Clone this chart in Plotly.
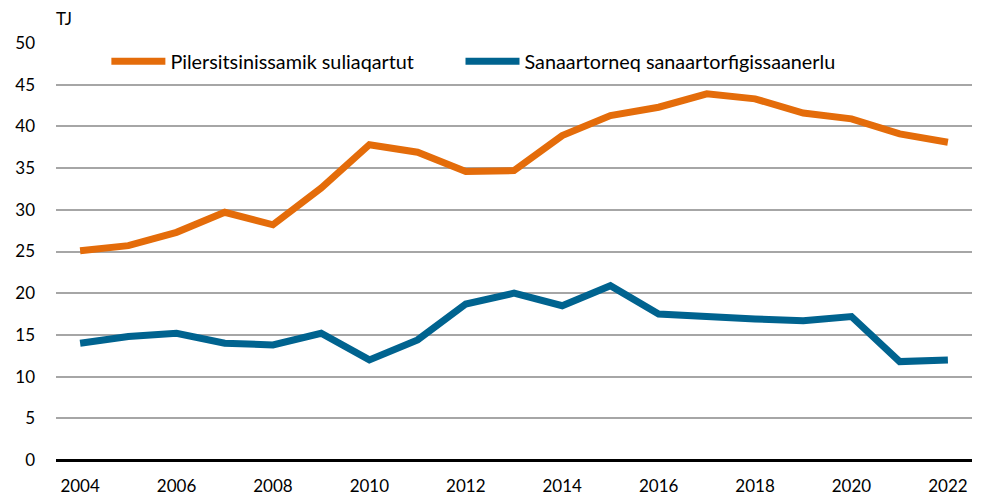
import plotly.graph_objects as go

years = list(range(2004, 2023))
pilersitsinissamik = [25.1, 25.7, 27.3, 29.7, 28.2, 32.6, 37.8, 36.9, 34.6, 34.7,
                      38.9, 41.3, 42.3, 43.9, 43.3, 41.6, 40.9, 39.1, 38.1]
sanaartorneq = [14.0, 14.8, 15.2, 14.0, 13.8, 15.2, 12.0, 14.4, 18.7, 20.0,
                18.5, 20.9, 17.5, 17.1, 16.9, 16.7, 17.2, 11.8, 12.0]
names = ["Pilersitsinissamik suliaqartut", "Sanaartorneq sanaartorfigissaanerlu"]
colors = ["#E46C0A", "#00638F"]
legend_ids = ["legend", "legend2"]

FONT = "Lato"

fig = go.Figure()
for name, vals, col, lg in zip(names, [pilersitsinissamik, sanaartorneq], colors, legend_ids):
    fig.add_trace(go.Scatter(x=years, y=vals, name=name, mode="lines",
                             line=dict(color=col, width=7), legend=lg))

leg_common = dict(orientation="h", y=0.956, xanchor="left", yanchor="middle",
                  bgcolor="rgba(0,0,0,0)", itemwidth=54,
                  font=dict(family=FONT, size=19.8))

fig.update_layout(
    width=975, height=489,
    margin=dict(l=48, r=11, t=35, b=37),
    paper_bgcolor="white", plot_bgcolor="white",
    font=dict(family=FONT, size=17, color="#000000"),
    showlegend=True,
    legend=dict(x=0.055, **leg_common),
    legend2=dict(x=0.4416, **leg_common),
    xaxis=dict(range=[2003.5, 2022.5], tickmode="linear", tick0=2004, dtick=2,
               showgrid=False, zeroline=False, showline=False, ticks="",
               automargin=False, ticklabelstandoff=14,
               tickfont=dict(family=FONT, size=17)),
    yaxis=dict(range=[0, 50], tickmode="linear", tick0=0, dtick=5,
               showgrid=True, gridcolor="#A6A6A6", gridwidth=2,
               zeroline=True, zerolinecolor="#000000", zerolinewidth=2.5,
               showline=False, ticks="", ticklabelstandoff=20, automargin=False,
               tickfont=dict(family=FONT, size=17)),
    annotations=[dict(text="TJ", xref="paper", yref="paper", x=0, y=1.0,
                      xanchor="left", yanchor="bottom", yshift=12, xshift=-2,
                      showarrow=False, font=dict(family=FONT, size=17))],
)

fig.write_html("out.html")
